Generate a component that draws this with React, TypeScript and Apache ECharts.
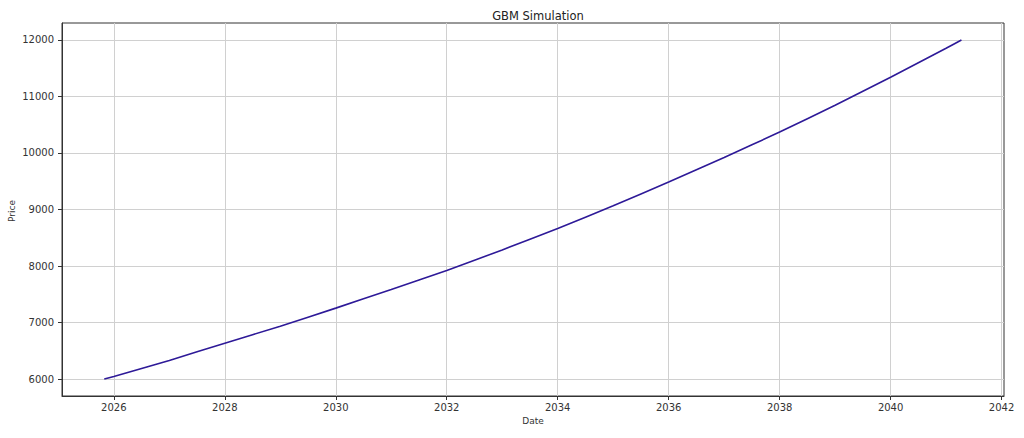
import React, { useEffect, useRef } from "react";
import * as echarts from "echarts";

const dates: string[] = [
  "2025-10-30", "2026-01-01", "2027-01-01", "2028-01-01", "2029-01-01",
  "2030-01-01", "2031-01-01", "2032-01-01", "2033-01-01", "2034-01-01",
  "2035-01-01", "2036-01-01", "2037-01-01", "2038-01-01", "2039-01-01",
  "2040-01-01", "2041-01-01", "2041-04-12",
];
const prices: number[] = [
  6000, 6045, 6330, 6635, 6935,
  7255, 7585, 7920, 8285, 8665,
  9065, 9485, 9920, 10370, 10845,
  11340, 11852, 12000,
];
const xTicks: number[] = [2026, 2028, 2030, 2032, 2034, 2036, 2038, 2040, 2042];
const yTicks: number[] = [6000, 7000, 8000, 9000, 10000, 11000, 12000];
const xRange: string[] = ["2025-01-25", "2042-01-17"];
const yRange: number[] = [5700, 12300];

// convert an ISO date to a fractional year
const toYear = (s: string) => {
  const t = Date.parse(s + "T00:00:00Z");
  const y = new Date(t).getUTCFullYear();
  const a = Date.UTC(y, 0, 1);
  const b = Date.UTC(y + 1, 0, 1);
  return y + (t - a) / (b - a);
};
const FONT = "DejaVu Sans";

export default function App() {
  const ref = useRef<HTMLDivElement>(null);
  useEffect(() => {
    document.body.style.margin = "0";
    const chart = echarts.init(ref.current!, null, { renderer: "svg" });
    chart.setOption({
      animation: false,
      backgroundColor: "#ffffff",
      textStyle: { fontFamily: FONT },
      title: {
        text: "GBM Simulation",
        left: 533,
        textAlign: "center",
        top: 5,
        textStyle: { fontFamily: FONT, fontSize: 11.5, fontWeight: "normal", color: "#222" },
      },
      grid: {
        left: 62,
        right: 20,
        top: 23,
        bottom: 42,
        show: true,
        borderColor: "#333",
        borderWidth: 1,
        backgroundColor: "transparent",
      },
      xAxis: {
        type: "value",
        min: toYear(xRange[0]),
        max: toYear(xRange[1]),
        axisLine: { show: true, lineStyle: { color: "#333", width: 1 } },
        axisTick: { show: true, length: 4, inside: false, lineStyle: { color: "#333" }, customValues: xTicks },
        axisLabel: {
          customValues: xTicks,
          margin: 6,
          fontSize: 10,
          color: "#333",
          fontFamily: FONT,
          formatter: (v: number) => String(Math.round(v)),
        },
        splitLine: { show: true, lineStyle: { color: "#d0d0d0", width: 1 } },
      },
      yAxis: {
        type: "value",
        min: yRange[0],
        max: yRange[1],
        axisLine: { show: true, lineStyle: { color: "#333", width: 1 } },
        axisTick: { show: true, length: 4, inside: false, lineStyle: { color: "#333" }, customValues: yTicks },
        axisLabel: {
          customValues: yTicks,
          margin: 8,
          fontSize: 10,
          color: "#333",
          fontFamily: FONT,
          formatter: (v: number) => String(v),
        },
        splitLine: { show: true, lineStyle: { color: "#d0d0d0", width: 1 } },
      },
      graphic: [
        {
          type: "text",
          x: 533,
          y: 421,
          style: { text: "Date", fontSize: 9, fontFamily: FONT, fill: "#333", align: "center", verticalAlign: "middle" },
        },
        {
          type: "text",
          x: 12,
          y: 211,
          rotation: Math.PI / 2,
          style: { text: "Price", fontSize: 9, fontFamily: FONT, fill: "#333", align: "center", verticalAlign: "middle" },
        },
      ],
      series: [
        {
          type: "line",
          data: dates.map((d, i) => [toYear(d), prices[i]]),
          showSymbol: false,
          smooth: 0.15,
          lineStyle: { color: "#2e1a98", width: 1.6 },
          itemStyle: { color: "#2e1a98" },
        },
      ],
    });
    return () => chart.dispose();
  }, []);
  return <div ref={ref} style={{ width: 1024, height: 438 }} />;
}
